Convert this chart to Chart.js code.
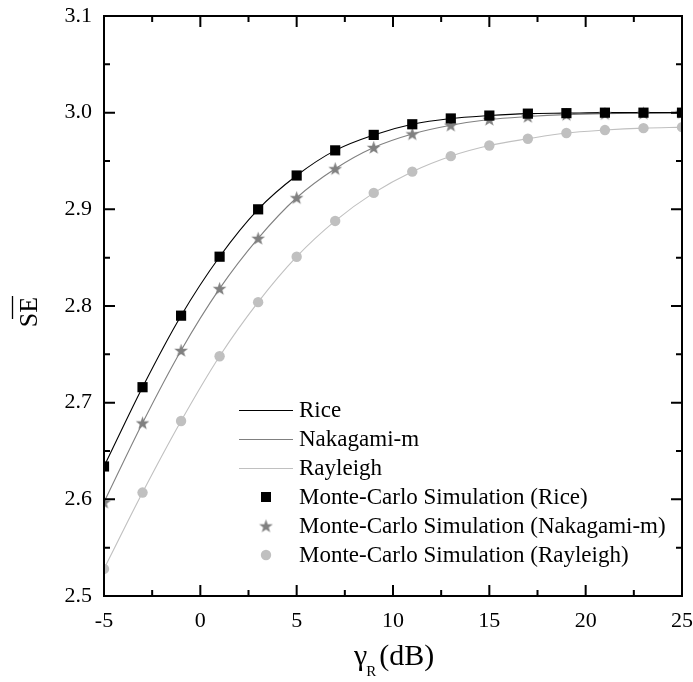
<!DOCTYPE html>
<html>
<head>
<meta charset="utf-8">
<script src="https://cdn.jsdelivr.net/npm/chart.js@4.4.0/dist/chart.umd.min.js"></script>
<style>
html,body{margin:0;padding:0;background:#fff;}
#wrap{width:693px;height:682px;}
</style>
</head>
<body>
<div id="wrap"><canvas id="c" width="693" height="682"></canvas></div>
<script>
// ---- data ----
const gammaR = [-5, -3, -1, 1, 3, 5, 7, 9, 11, 13, 15, 17, 19, 21, 23, 25];
const riceSE = [2.634, 2.716, 2.790, 2.851, 2.900, 2.935, 2.961, 2.977, 2.988, 2.994, 2.997, 2.999, 2.9995, 3.000, 3.000, 3.000];
const nakagamiSE = [2.597, 2.679, 2.754, 2.818, 2.870, 2.912, 2.942, 2.964, 2.978, 2.987, 2.993, 2.996, 2.998, 2.999, 2.9995, 3.000];
const rayleighSE = [2.528, 2.607, 2.681, 2.748, 2.804, 2.851, 2.888, 2.917, 2.939, 2.955, 2.966, 2.973, 2.979, 2.982, 2.984, 2.985];
const xTicks = [-5, 0, 5, 10, 15, 20, 25];
const yTicks = [2.5, 2.6, 2.7, 2.8, 2.9, 3.0, 3.1];
const seriesNames = ['Rice', 'Nakagami-m', 'Rayleigh',
  'Monte-Carlo Simulation (Rice)', 'Monte-Carlo Simulation (Nakagami-m)', 'Monte-Carlo Simulation (Rayleigh)'];

const FONT = "'Liberation Serif', 'Times New Roman', serif";
const cRice = '#000000', cNak = '#808080', cRay = '#c0c0c0';

function pts(ys){ return gammaR.map((x,i)=>({x:x, y:ys[i]})); }

// star marker
function makeStar(color, R, r){
  const s = Math.ceil(R*2+2);
  const cv = document.createElement('canvas');
  cv.width = s; cv.height = s;
  const g = cv.getContext('2d');
  g.fillStyle = color;
  g.beginPath();
  for(let k=0;k<10;k++){
    const ang = -Math.PI/2 + k*Math.PI/5;
    const rad = (k%2===0)?R:r;
    const px = s/2 + rad*Math.cos(ang), py = s/2 + 0.5 + rad*Math.sin(ang);
    if(k===0) g.moveTo(px,py); else g.lineTo(px,py);
  }
  g.closePath(); g.fill();
  return cv;
}
const starImg = makeStar(cNak, 7.2, 2.9);

function lineDs(label, ys, color){
  return {type:'line', label, data:pts(ys), borderColor:color, backgroundColor:color,
    borderWidth:1.1, pointRadius:0, pointHoverRadius:0, fill:false,
    cubicInterpolationMode:'monotone', order:2};
}
function markDs(label, ys, color, style, radius){
  return {type:'scatter', label, data:pts(ys), borderColor:color, backgroundColor:color,
    pointStyle:style, pointRadius:radius, pointBorderWidth:0, showLine:false, order:1};
}

const datasets = [
  lineDs(seriesNames[0], riceSE, cRice),
  lineDs(seriesNames[1], nakagamiSE, cNak),
  lineDs(seriesNames[2], rayleighSE, cRay),
  markDs(seriesNames[3], riceSE, cRice, 'rect', 7.2),
  markDs(seriesNames[4], nakagamiSE, cNak, starImg, 7),
  markDs(seriesNames[5], rayleighSE, cRay, 'circle', 5.2),
];

const decor = {
  id:'decor',
  afterDatasetsDraw(chart){
    const ctx = chart.ctx, a = chart.chartArea;
    const xs = chart.scales.x, ys = chart.scales.y;
    ctx.save();
    ctx.strokeStyle = '#000'; ctx.lineWidth = 2;
    ctx.strokeRect(a.left, a.top, a.right-a.left, a.bottom-a.top);
    // ticks
    const MAJ = 11, MIN = 6;
    ctx.beginPath();
    for(let i=0;i<xTicks.length;i++){
      const px = xs.getPixelForValue(xTicks[i]);
      ctx.moveTo(px, a.bottom); ctx.lineTo(px, a.bottom-MAJ);
      ctx.moveTo(px, a.top); ctx.lineTo(px, a.top+MAJ);
      if(i<xTicks.length-1){
        const pm = xs.getPixelForValue((xTicks[i]+xTicks[i+1])/2);
        ctx.moveTo(pm, a.bottom); ctx.lineTo(pm, a.bottom-MIN);
        ctx.moveTo(pm, a.top); ctx.lineTo(pm, a.top+MIN);
      }
    }
    for(let i=0;i<yTicks.length;i++){
      const py = ys.getPixelForValue(yTicks[i]);
      ctx.moveTo(a.left, py); ctx.lineTo(a.left+MAJ, py);
      ctx.moveTo(a.right, py); ctx.lineTo(a.right-MAJ, py);
      if(i<yTicks.length-1){
        const pm = ys.getPixelForValue((yTicks[i]+yTicks[i+1])/2);
        ctx.moveTo(a.left, pm); ctx.lineTo(a.left+MIN, pm);
        ctx.moveTo(a.right, pm); ctx.lineTo(a.right-MIN, pm);
      }
    }
    ctx.stroke();

    // legend
    const lx0 = 239, lx1 = 293, mx = 266, tx = 299;
    const rowY = [410, 439, 468, 497, 526, 555];
    ctx.font = '23px ' + FONT;
    ctx.textBaseline = 'middle'; ctx.textAlign = 'left';
    chart.data.datasets.forEach((ds, i)=>{
      const y = rowY[i];
      if(ds.type === 'line'){
        ctx.strokeStyle = ds.borderColor; ctx.lineWidth = 1;
        ctx.beginPath(); ctx.moveTo(lx0, y+0.5); ctx.lineTo(lx1, y+0.5); ctx.stroke();
      } else {
        ctx.fillStyle = ds.backgroundColor;
        if(ds.pointStyle === 'rect'){
          ctx.fillRect(mx-5, y-5, 10, 10);
        } else if(ds.pointStyle === 'circle'){
          ctx.beginPath(); ctx.arc(mx, y, 5.2, 0, Math.PI*2); ctx.fill();
        } else {
          const im = ds.pointStyle;
          ctx.drawImage(im, mx-im.width/2, y-im.height/2);
        }
      }
      ctx.fillStyle = '#000';
      ctx.fillText(ds.label, tx, y+1);
    });

    // y title with overline
    ctx.save();
    ctx.translate(29, 312);
    ctx.rotate(-Math.PI/2);
    ctx.font = '26px ' + FONT;
    ctx.textAlign = 'center'; ctx.textBaseline = 'middle';
    ctx.fillStyle = '#000';
    ctx.fillText('SE', 0, 1);
    ctx.strokeStyle = '#000'; ctx.lineWidth = 1.3;
    ctx.beginPath(); ctx.moveTo(-7, -16.5); ctx.lineTo(16, -16.5); ctx.stroke();
    ctx.restore();

    // x title
    ctx.fillStyle = '#000';
    ctx.textAlign = 'left'; ctx.textBaseline = 'alphabetic';
    ctx.font = '30px ' + FONT;
    let x = 354;
    ctx.fillText('\u03B3', x, 665);
    x += ctx.measureText('\u03B3').width - 1;
    ctx.font = '15px ' + FONT;
    ctx.fillText('R', x, 676);
    x += ctx.measureText('R').width + 3;
    ctx.font = '30px ' + FONT;
    ctx.fillText('(dB)', x, 665);
    ctx.restore();
  }
};

new Chart(document.getElementById('c'), {
  data:{datasets},
  options:{
    responsive:false, animation:false, devicePixelRatio:1,
    layout:{padding:{left:0, right:11, top:16, bottom:0}},
    plugins:{legend:{display:false}, tooltip:{enabled:false}},
    scales:{
      x:{type:'linear', min:-5, max:25,
        afterFit(s){ s.height = 86; s.paddingLeft = 0; s.paddingRight = 0; },
        afterBuildTicks(s){ s.ticks = xTicks.map(v=>({value:v})); },
        grid:{display:false, drawTicks:false}, border:{display:false},
        ticks:{padding:12, color:'#000', font:{family:FONT, size:22}, maxRotation:0,
          callback:(v)=>String(v)}},
      y:{type:'linear', min:2.5, max:3.1,
        afterFit(s){ s.width = 104; s.paddingTop = 0; s.paddingBottom = 0; },
        afterBuildTicks(s){ s.ticks = yTicks.map(v=>({value:v})); },
        grid:{display:false, drawTicks:false}, border:{display:false},
        ticks:{padding:12, color:'#000', font:{family:FONT, size:22},
          callback:(v)=>Number(v).toFixed(1)}}
    }
  },
  plugins:[decor]
});
</script>
</body>
</html>
